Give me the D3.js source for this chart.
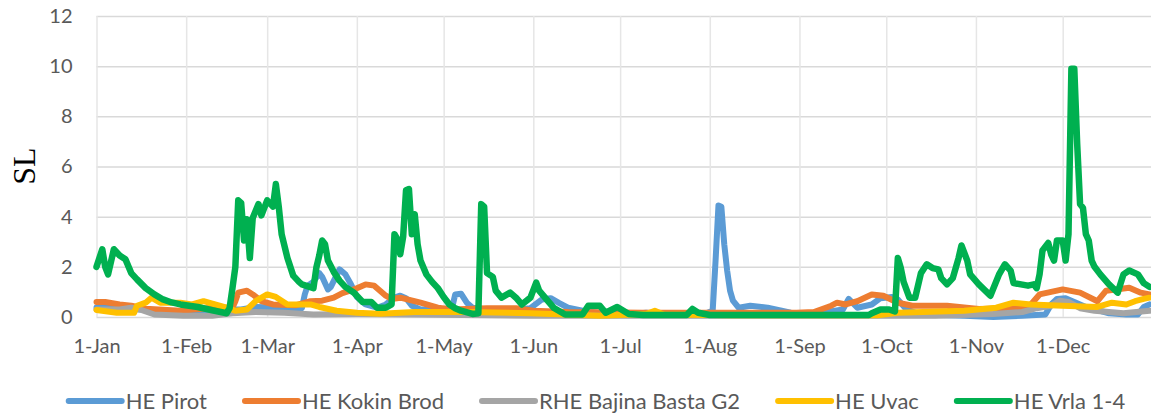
<!DOCTYPE html>
<html>
<head>
<meta charset="utf-8">
<script src="https://cdn.jsdelivr.net/npm/d3@7"></script>
<style>
  body { margin: 0; background: #fff; }
  text { font-family: Lato, "Open Sans", sans-serif; fill: #595959; }
  .grid line { stroke: #d9d9d9; stroke-width: 1.5; }
  .vgrid line { stroke: #e6e6e6; stroke-width: 1.5; }
  .series { fill: none; stroke-linejoin: round; stroke-linecap: round; }
</style>
</head>
<body>
<div id="chart"></div>
<script>
// series values as [day of year (0 = 1-Jan), SL]
var pirot = [[0,0.38],[10,0.35],[20,0.25],[30,0.15],[40,0.12],[46,0.3],[50,0.3],[55,0.4],[62,0.38],[68,0.3],
  [71,0.35],[72,0.9],[73,1.25],[75,1.4],[77,1.75],[78,1.6],[80,1.1],[81,1.2],[84,1.9],[86,1.7],[88,1.3],
  [90,0.8],[93,0.5],[97,0.37],[100,0.5],[103,0.77],[105,0.85],[107,0.75],[109,0.45],[112,0.3],[120,0.3],
  [123,0.4],[124,0.9],[126,0.93],[128,0.57],[130,0.37],[135,0.3],[145,0.3],[150,0.35],[154,0.7],[157,0.75],
  [160,0.55],[163,0.37],[168,0.25],[175,0.15],[185,0.12],[190,0.17],[195,0.12],[210,0.12],[213,0.25],
  [214,2.25],[215,4.45],[216,4.4],[217,2.9],[218,1.85],[219,1.05],[220,0.65],[222,0.37],[226,0.45],
  [232,0.37],[240,0.17],[250,0.15],[258,0.3],[260,0.72],[263,0.37],[268,0.5],[271,0.75],[275,0.8],
  [277,0.7],[280,0.3],[285,0.1],[300,0.05],[310,0.0],[320,0.05],[328,0.1],[330,0.5],[332,0.72],
  [335,0.75],[338,0.6],[342,0.4],[350,0.15],[356,0.1],[360,0.1],[362,0.4],[364,0.5]];

var kokinBrod = [[0,0.6],[3,0.6],[8,0.5],[12,0.45],[17,0.33],[29,0.25],[40,0.37],[47,0.37],[48,0.63],
  [49,0.97],[52,1.05],[54,0.9],[57,0.63],[61,0.5],[69,0.47],[74,0.63],[78,0.65],[82,0.77],[85,0.95],
  [89,1.1],[93,1.3],[96,1.25],[98,1.05],[100,0.85],[102,0.72],[105,0.77],[112,0.57],[118,0.37],[123,0.3],
  [135,0.35],[145,0.35],[151,0.25],[163,0.2],[189,0.17],[242,0.17],[248,0.2],[254,0.45],[256,0.57],
  [259,0.5],[263,0.63],[268,0.9],[272,0.85],[277,0.57],[282,0.45],[294,0.45],[305,0.32],[322,0.37],
  [326,0.9],[334,1.1],[340,0.97],[346,0.63],[349,1.05],[357,1.17],[361,0.97],[364,0.9]];

var bajinaBasta = [[0,0.3],[8,0.3],[12,0.37],[15,0.3],[20,0.1],[30,0.05],[40,0.05],[47,0.15],[55,0.2],
  [65,0.17],[75,0.1],[90,0.12],[110,0.1],[150,0.05],[200,0.05],[260,0.05],[290,0.05],[310,0.12],
  [320,0.2],[325,0.35],[330,0.45],[333,0.65],[336,0.6],[340,0.35],[345,0.25],[355,0.15],[364,0.25]];

var uvac = [[0,0.28],[7,0.17],[13,0.17],[14,0.45],[17,0.57],[19,0.77],[22,0.57],[29,0.57],[33,0.5],
  [37,0.63],[41,0.5],[45,0.37],[48,0.25],[52,0.3],[55,0.63],[59,0.9],[62,0.8],[66,0.5],[74,0.5],
  [77,0.4],[83,0.25],[90,0.17],[98,0.13],[110,0.2],[128,0.2],[150,0.15],[174,0.05],[190,0.12],
  [193,0.25],[196,0.1],[220,0.07],[270,0.07],[277,0.17],[300,0.25],[311,0.37],[317,0.57],[323,0.5],
  [334,0.45],[346,0.4],[351,0.57],[356,0.5],[359,0.63],[362,0.72],[364,0.77]];

var vrla = [[0,2.0],[2,2.7],[3,2.0],[4,1.7],[6,2.7],[8,2.45],[10,2.3],[12,1.75],[14,1.5],[17,1.15],
  [20,0.9],[23,0.7],[26,0.58],[29,0.5],[35,0.4],[40,0.27],[45,0.15],[46,0.35],[47,1.15],[48,2.0],
  [49,4.65],[50,4.55],[51,3.05],[52,3.9],[53,2.35],[54,3.95],[56,4.5],[57,4.05],[59,4.65],[61,4.4],
  [62,5.3],[63,4.4],[64,3.3],[66,2.35],[68,1.65],[70,1.4],[71,1.3],[75,1.15],[76,1.97],[77,2.45],
  [78,3.05],[79,2.9],[80,2.25],[82,1.8],[84,1.45],[86,1.2],[89,0.97],[92,0.6],[95,0.6],[97,0.37],
  [100,0.37],[102,0.5],[103,3.3],[104,3.1],[105,2.5],[106,3.2],[107,5.05],[108,5.1],[109,3.3],
  [110,4.1],[111,2.9],[112,2.25],[114,1.7],[116,1.4],[118,1.15],[120,0.8],[122,0.5],[124,0.35],
  [126,0.25],[130,0.12],[132,0.15],[133,4.5],[134,4.4],[135,1.75],[137,1.6],[138,1.05],[140,0.77],
  [143,0.97],[145,0.77],[147,0.5],[150,0.77],[152,1.37],[153,1.05],[158,0.37],[162,0.1],[168,0.1],
  [170,0.45],[174,0.45],[176,0.17],[180,0.4],[184,0.12],[189,0.08],[204,0.08],[206,0.32],[208,0.17],
  [212,0.08],[267,0.08],[268,0.15],[271,0.3],[274,0.3],[276,0.22],[277,2.35],[278,1.97],[279,1.4],
  [281,0.77],[283,0.77],[285,1.75],[287,2.1],[289,1.95],[291,1.9],[292,1.55],[294,1.3],[296,1.55],
  [298,2.35],[299,2.85],[301,2.25],[302,1.7],[305,1.3],[309,0.85],[312,1.7],[314,2.1],[316,1.85],
  [317,1.35],[322,1.25],[324,1.3],[325,1.15],[326,1.7],[327,2.65],[329,2.95],[330,2.5],[331,2.25],
  [332,3.05],[334,3.05],[335,2.25],[336,3.3],[337,9.9],[338,9.9],[339,6.9],[340,4.5],[341,4.35],
  [342,3.3],[343,3.05],[344,2.25],[345,2.0],[347,1.7],[350,1.3],[353,0.97],[355,1.7],[357,1.85],
  [360,1.7],[362,1.35],[364,1.2]];

var seriesNames = ["HE Pirot", "HE Kokin Brod", "RHE Bajina Basta G2", "HE Uvac", "HE Vrla 1-4"];
var seriesData = [pirot, kokinBrod, bajinaBasta, uvac, vrla];
var seriesColors = ["#5b9bd5", "#ed7d31", "#a5a5a5", "#ffc000", "#00b050"];
var yTicks = [0, 2, 4, 6, 8, 10, 12];

var W = 1151, H = 415;
var margin = {top: 16, right: 0, bottom: 98, left: 96.5};
var yearStart = new Date(2019, 0, 1), yearEnd = new Date(2019, 11, 31);

var svg = d3.select("#chart").append("svg")
    .attr("width", W)
    .attr("height", H)
    .style("display", "block");

var xScale = d3.scaleTime()
    .domain([yearStart, yearEnd])
    .range([margin.left, 1149.5]);

var yScale = d3.scaleLinear()
    .domain([0, 12])
    .range([H - margin.bottom, margin.top]);

// horizontal gridlines + y labels
svg.append("g")
    .attr("class", "grid")
    .attr("transform", "translate(" + margin.left + ",0)")
    .call(d3.axisLeft(yScale).tickValues(yTicks).tickSize(-(W - margin.left)).tickPadding(24).tickFormat(d3.format("d")))
    .call(function(g) { g.select(".domain").remove(); })
    .selectAll("text")
      .style("font-size", "20px")
      .style("font-family", "Lato, sans-serif")
      .attr("fill", "#595959");

// vertical gridlines at month starts + x labels
var months = d3.timeMonth.range(yearStart, yearEnd);
svg.append("g")
    .attr("class", "vgrid")
    .attr("transform", "translate(0," + yScale(0) + ")")
    .call(d3.axisBottom(xScale).tickValues(months).tickSize(-(yScale(0) - yScale(12))).tickPadding(22).tickFormat(d3.timeFormat("%-d-%b")))
    .call(function(g) { g.select(".domain").remove(); })
    .selectAll("text")
      .style("font-size", "20px")
      .style("font-family", "Lato, sans-serif")
      .attr("fill", "#595959");

var line = d3.line()
    .x(function(d) { return xScale(d3.timeDay.offset(yearStart, d[0])); })
    .y(function(d) { return yScale(d[1]); });

seriesData.forEach(function(s, i) {
  svg.append("path")
      .datum(s)
      .attr("class", "series")
      .attr("stroke", seriesColors[i])
      .attr("stroke-width", i == 4 ? 6.5 : 6)
      .attr("d", line);
});

// y title
svg.append("text")
    .attr("transform", "translate(35,166) rotate(-90)")
    .attr("text-anchor", "middle")
    .style("font-family", "'Liberation Serif', 'Times New Roman', serif")
    .style("font-size", "32px")
    .style("fill", "#000")
    .text("SL");

// legend
var legend = svg.append("g").attr("class", "legend");
var items = legend.selectAll("g")
    .data(seriesNames)
  .enter().append("g");
items.append("line")
    .attr("x1", 0).attr("x2", 53)
    .attr("y1", 0).attr("y2", 0)
    .attr("stroke", function(d, i) { return seriesColors[i]; })
    .attr("stroke-width", 6)
    .attr("stroke-linecap", "round");
items.append("text")
    .attr("x", 57)
    .attr("y", 8)
    .style("font-size", "22px")
    .text(function(d) { return d; });

var gap = 38, pos = 0, offsets = [];
items.each(function() {
  offsets.push(pos);
  pos += 57 + this.querySelector("text").getComputedTextLength() + gap;
});
var total = pos - gap;
var start = 597 - total / 2;
items.attr("transform", function(d, i) { return "translate(" + (start + offsets[i]) + ",401)"; });
</script>
</body>
</html>
